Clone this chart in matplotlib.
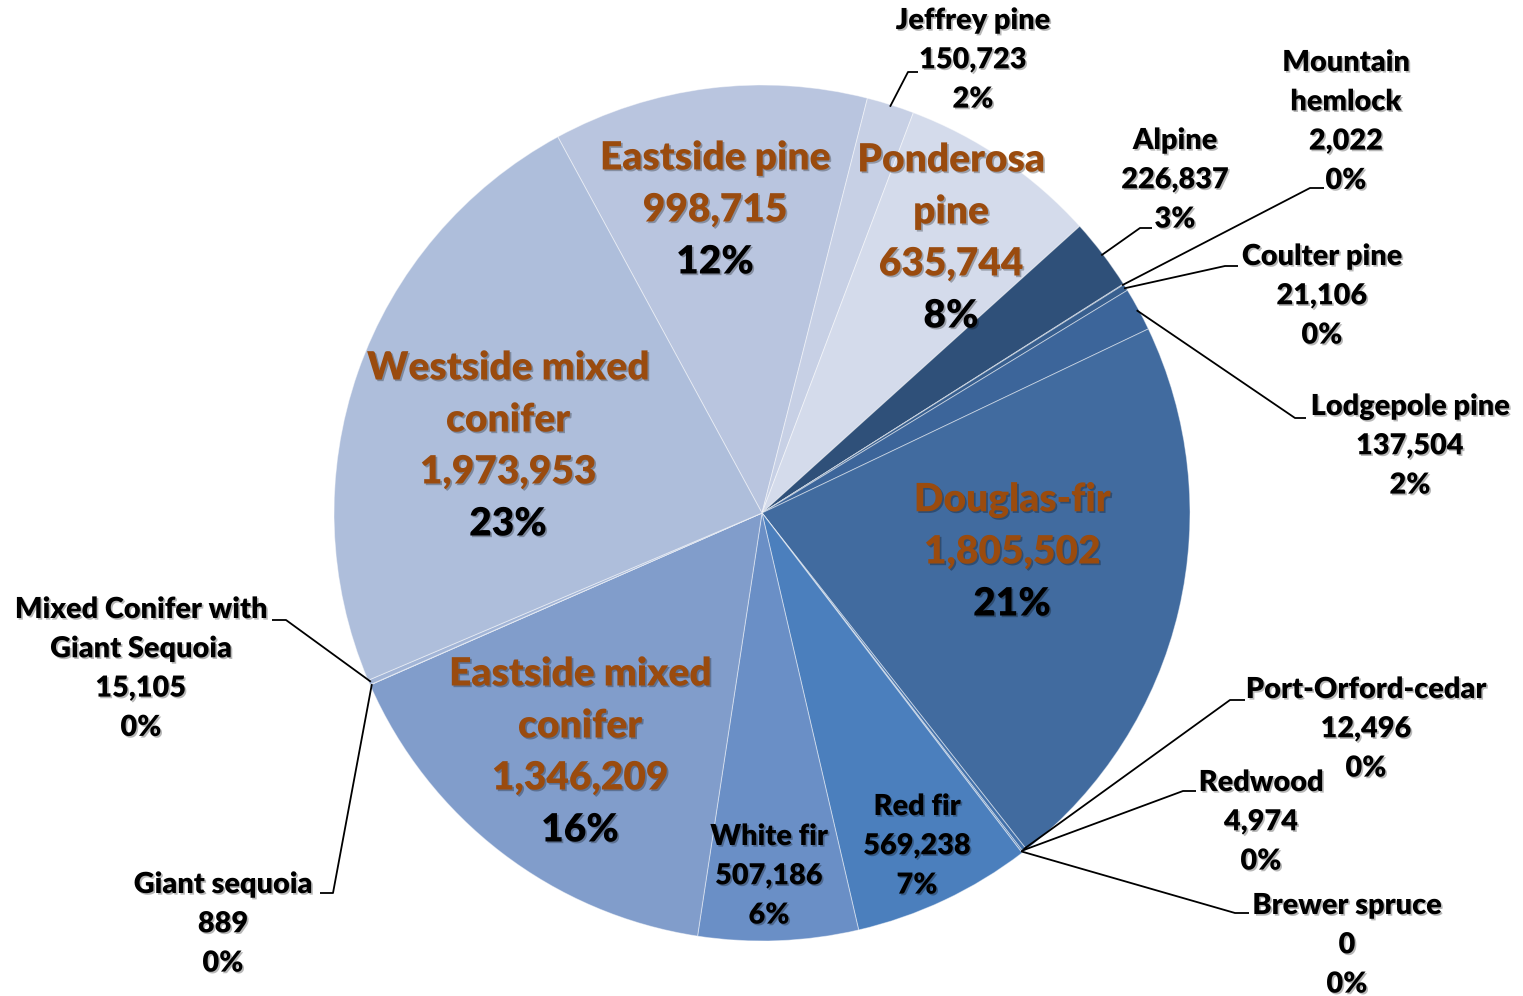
import matplotlib
matplotlib.use("Agg")
import matplotlib.pyplot as plt
import matplotlib.patheffects as pe
import numpy as np

# Forest type acreage, listed clockwise starting with Eastside pine
types = ["Eastside pine", "Jeffrey pine", "Ponderosa pine", "Alpine",
         "Mountain hemlock", "Coulter pine", "Lodgepole pine", "Douglas-fir",
         "Port-Orford-cedar", "Redwood", "Brewer spruce", "Red fir",
         "White fir", "Eastside mixed conifer", "Giant sequoia",
         "Mixed Conifer with Giant Sequoia", "Westside mixed conifer"]
acres = [998715, 150723, 635744, 226837, 2022, 21106, 137504, 1805502,
         12496, 4974, 0, 569238, 507186, 1346209, 889, 15105, 1973953]
colors = ["#B9C5DF", "#C7D0E5", "#D4DBEB", "#2F5079", "#335683", "#385F8F",
          "#3C659A", "#416B9F", "#4472AB", "#4675B0", "#4879B5", "#4B7FBD",
          "#6A8FC6", "#819DCB", "#93ABD2", "#A2B5D7", "#AEBEDB"]

# Text lines shown for each label
display_names = {
    "Ponderosa pine": "Ponderosa\npine",
    "Westside mixed conifer": "Westside mixed\nconifer",
    "Eastside mixed conifer": "Eastside mixed\nconifer",
    "Mountain hemlock": "Mountain\nhemlock",
    "Mixed Conifer with Giant Sequoia": "Mixed Conifer with\nGiant Sequoia",
}

W, H = 1523, 996
fig = plt.figure(figsize=(W / 100, H / 100), dpi=100)
ax = fig.add_axes([0, 0, 1, 1])

cx, cy, R = 762, H - 513, 428
start = 118.5

wedges, _ = ax.pie(acres, colors=colors, startangle=start, counterclock=False,
                   center=(cx, cy), radius=R, frame=True,
                   wedgeprops=dict(edgecolor=(1, 1, 1, 0.45), linewidth=0.7))
ax.set_xlim(0, W)
ax.set_ylim(0, H)
ax.set_aspect("equal")
ax.axis("off")

total = sum(acres)
FONT = "Lato"
WEIGHT = "heavy"
brown = "#9A4B0E"
shadow = [pe.withSimplePatchShadow(offset=(1.2, -1.2), shadow_rgbFace="black", alpha=0.28)]


def fmt_val(v):
    return f"{v:,}"


def pct(v):
    return f"{round(100 * v / total):.0f}%"


def mid_point(i, r=R):
    w = wedges[i]
    ang = np.deg2rad((w.theta1 + w.theta2) / 2)
    return cx + r * np.cos(ang), cy + r * np.sin(ang)


def py(y):
    return H - y


# Large inside labels: name/value in brown, percentage in black
big = {
    "Eastside pine": (715, 158),
    "Ponderosa pine": (951, 160),
    "Westside mixed conifer": (508, 368),
    "Douglas-fir": (1012, 500),
    "Eastside mixed conifer": (580, 674),
}
big_step = 52
for name, (x, y0) in big.items():
    i = types.index(name)
    lines = display_names.get(name, name).split("\n") + [fmt_val(acres[i])]
    for k, t in enumerate(lines):
        ax.text(x, py(y0 + k * big_step), t, ha="center", va="center",
                fontsize=28, fontweight=WEIGHT, color=brown, family=FONT,
                path_effects=shadow)
    ax.text(x, py(y0 + len(lines) * big_step), pct(acres[i]), ha="center",
            va="center", fontsize=28, fontweight=WEIGHT, color="black",
            family=FONT, path_effects=shadow)

small_step = 39.3


def small_label(name, x, y0):
    i = types.index(name)
    lines = display_names.get(name, name).split("\n") + [fmt_val(acres[i]), pct(acres[i])]
    for k, t in enumerate(lines):
        ax.text(x, py(y0 + k * small_step), t, ha="center", va="center",
                fontsize=20.8, fontweight=WEIGHT, color="black", family=FONT,
                path_effects=shadow)


# Inside labels on the fir slices
small_label("Red fir", 917, 807)
small_label("White fir", 769, 837)

# Outside labels with leader lines: (label x, first line y, elbow, end of hook)
outside = {
    "Jeffrey pine": (973, 21, (908, 72), (918, 72)),
    "Alpine": (1175, 141, (1140, 228), (1152, 228)),
    "Mountain hemlock": (1346, 63, (1310, 188), (1324, 188)),
    "Coulter pine": (1322, 257, (1225, 266), (1238, 266)),
    "Lodgepole pine": (1410, 407, (1295, 418), (1306, 418)),
    "Port-Orford-cedar": (1366, 690, (1230, 700), (1245, 700)),
    "Redwood": (1261, 783, (1183, 791), (1196, 791)),
    "Brewer spruce": (1347, 906, (1235, 913), (1249, 913)),
    "Mixed Conifer with Giant Sequoia": (141, 610, (286, 620), (272, 620)),
    "Giant sequoia": (223, 885, (333, 893), (320, 893)),
}
for name, (x, y0, elbow, hook) in outside.items():
    i = types.index(name)
    sx, sy = mid_point(i, R - 2)
    ax.plot([sx, elbow[0], hook[0]], [sy, py(elbow[1]), py(hook[1])],
            color="black", lw=1.3, solid_capstyle="butt", zorder=5)
    small_label(name, x, y0)

fig.savefig("out.png", dpi=100, facecolor="white")
